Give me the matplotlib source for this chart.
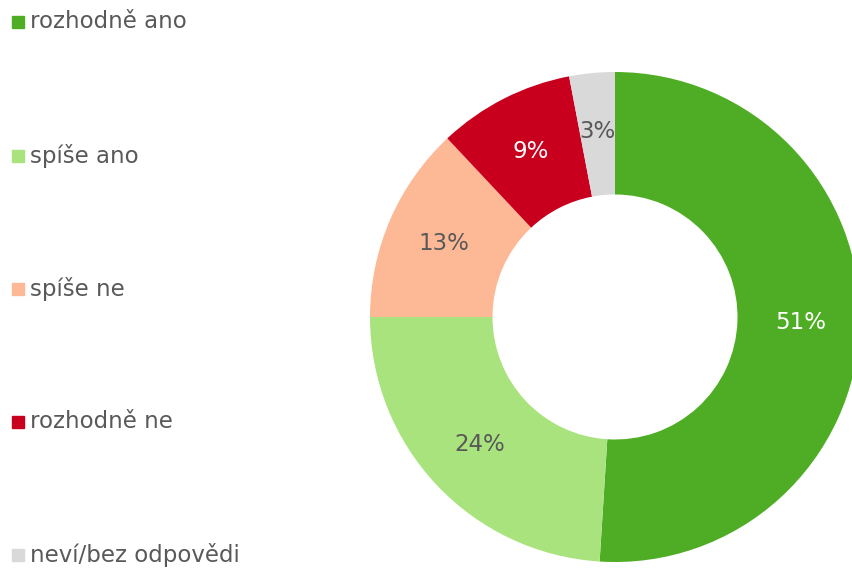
import matplotlib.pyplot as plt
from matplotlib.patches import Rectangle

categories = ['rozhodně ano', 'spíše ano', 'spíše ne', 'rozhodně ne', 'neví/bez odpovědi']
shares = [51, 24, 13, 9, 3]
colors = ['#4EAD24', '#A9E37E', '#FDB996', '#C8001E', '#D9D9D9']
label_colors = ['white', '#595959', '#595959', 'white', '#595959']

W, H = 852, 568
fig = plt.figure(figsize=(W / 100, H / 100), dpi=100)

# donut: center (615, 317) px from top-left, radius ~245 px
cx, cy, r = 615, 317, 245
ax = fig.add_axes([(cx - r) / W, (H - cy - r) / H, 2 * r / W, 2 * r / H])
wedges, texts, autotexts = ax.pie(
    shares, colors=colors, startangle=90, counterclock=False,
    wedgeprops=dict(width=0.5, linewidth=0),
    autopct='%d%%', pctdistance=0.76,
    textprops=dict(fontsize=16.5))
for t, c in zip(autotexts, label_colors):
    t.set_color(c)
ax.set_xlim(-1, 1)
ax.set_ylim(-1, 1)
ax.set_aspect('equal')
ax.axis('off')

# legend on the left
y_px = [22, 156, 289, 422, 555]
for name, col, yp in zip(categories, colors, y_px):
    fig.add_artist(Rectangle((12 / W, (H - yp - 6) / H), 12 / W, 12 / H,
                             transform=fig.transFigure, color=col))
    fig.text(30 / W, (H - yp) / H, name, fontsize=16.5, color='#595959',
             va='center', ha='left')

fig.savefig('out.png', dpi=100)
